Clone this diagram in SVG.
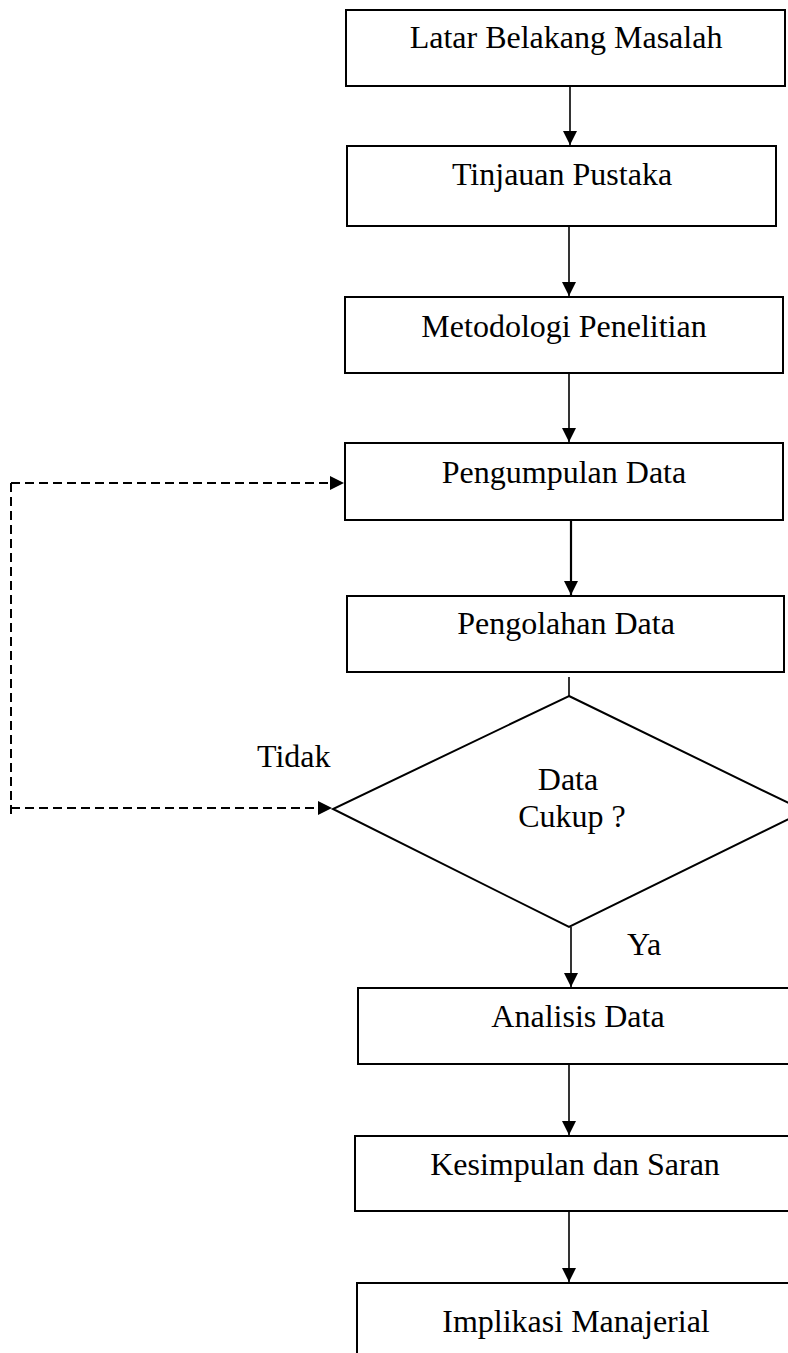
<svg xmlns="http://www.w3.org/2000/svg" width="788" height="1353" viewBox="0 0 788 1353">
  <style>
    .box { fill: #fff; stroke: #000; stroke-width: 2; }
    .lbl { font-family: "Liberation Serif", "Times New Roman", serif; font-size: 32px; fill: #000; }
    .mid { text-anchor: middle; }
    .link { fill: none; stroke: #000; stroke-width: 1.6; }
    .dash { fill: none; stroke: #000; stroke-width: 2; stroke-dasharray: 9 5; }
  </style>
  <defs>
    <marker id="arrow" viewBox="0 0 14 14" refX="14" refY="7" markerWidth="14" markerHeight="14" markerUnits="userSpaceOnUse" orient="auto">
      <path d="M0,0 L14,7 L0,14 z" fill="#000"/>
    </marker>
  </defs>
  <rect width="788" height="1353" fill="#fff"/>

  <g id="connectors">
    <line class="link" x1="570" y1="87" x2="570" y2="145" marker-end="url(#arrow)"/>
    <line class="link" x1="569" y1="227" x2="569" y2="296" marker-end="url(#arrow)"/>
    <line class="link" x1="569" y1="374" x2="569" y2="442" marker-end="url(#arrow)"/>
    <line class="link" style="stroke-width:2.2" x1="571" y1="521" x2="571" y2="595" marker-end="url(#arrow)"/>
    <line class="link" x1="569" y1="677" x2="569" y2="696"/>
    <line class="link" x1="571" y1="927" x2="571" y2="987" marker-end="url(#arrow)"/>
    <line class="link" x1="569" y1="1065" x2="569" y2="1135" marker-end="url(#arrow)"/>
    <line class="link" x1="569" y1="1212" x2="569" y2="1282" marker-end="url(#arrow)"/>
    <!-- "Tidak" loop back to data collection -->
    <line class="dash" x1="11" y1="483" x2="344" y2="483" marker-end="url(#arrow)"/>
    <line class="dash" x1="11" y1="483" x2="11" y2="814"/>
    <line class="dash" x1="11" y1="808" x2="332" y2="808" marker-end="url(#arrow)"/>
  </g>

  <g id="latar-belakang">
    <rect class="box" x="346" y="10" width="439" height="76"/>
    <text class="lbl mid" x="566" y="48">Latar Belakang Masalah</text>
  </g>
  <g id="tinjauan-pustaka">
    <rect class="box" x="347" y="146" width="429" height="80"/>
    <text class="lbl mid" x="562" y="185">Tinjauan Pustaka</text>
  </g>
  <g id="metodologi">
    <rect class="box" x="345" y="297" width="438" height="76"/>
    <text class="lbl mid" x="564" y="337">Metodologi Penelitian</text>
  </g>
  <g id="pengumpulan-data">
    <rect class="box" x="345" y="443" width="438" height="77"/>
    <text class="lbl mid" x="564" y="483">Pengumpulan Data</text>
  </g>
  <g id="pengolahan-data">
    <rect class="box" x="347" y="596" width="437" height="76"/>
    <text class="lbl mid" x="566" y="634">Pengolahan Data</text>
  </g>
  <g id="data-cukup">
    <polygon class="box" points="569,696 805,811 569,927 333,809"/>
    <text class="lbl mid" x="568" y="790">Data</text>
    <text class="lbl mid" x="572" y="827">Cukup ?</text>
  </g>
  <g id="label-tidak">
    <text class="lbl" x="257" y="767">Tidak</text>
  </g>
  <g id="label-ya">
    <text class="lbl" x="627" y="955">Ya</text>
  </g>
  <g id="analisis-data">
    <rect class="box" x="358" y="988" width="440" height="76"/>
    <text class="lbl mid" x="578" y="1027">Analisis Data</text>
  </g>
  <g id="kesimpulan">
    <rect class="box" x="355" y="1136" width="440" height="75"/>
    <text class="lbl mid" x="575" y="1175">Kesimpulan dan Saran</text>
  </g>
  <g id="implikasi">
    <rect class="box" x="357" y="1283" width="440" height="90"/>
    <text class="lbl mid" x="576" y="1332">Implikasi Manajerial</text>
  </g>
</svg>
